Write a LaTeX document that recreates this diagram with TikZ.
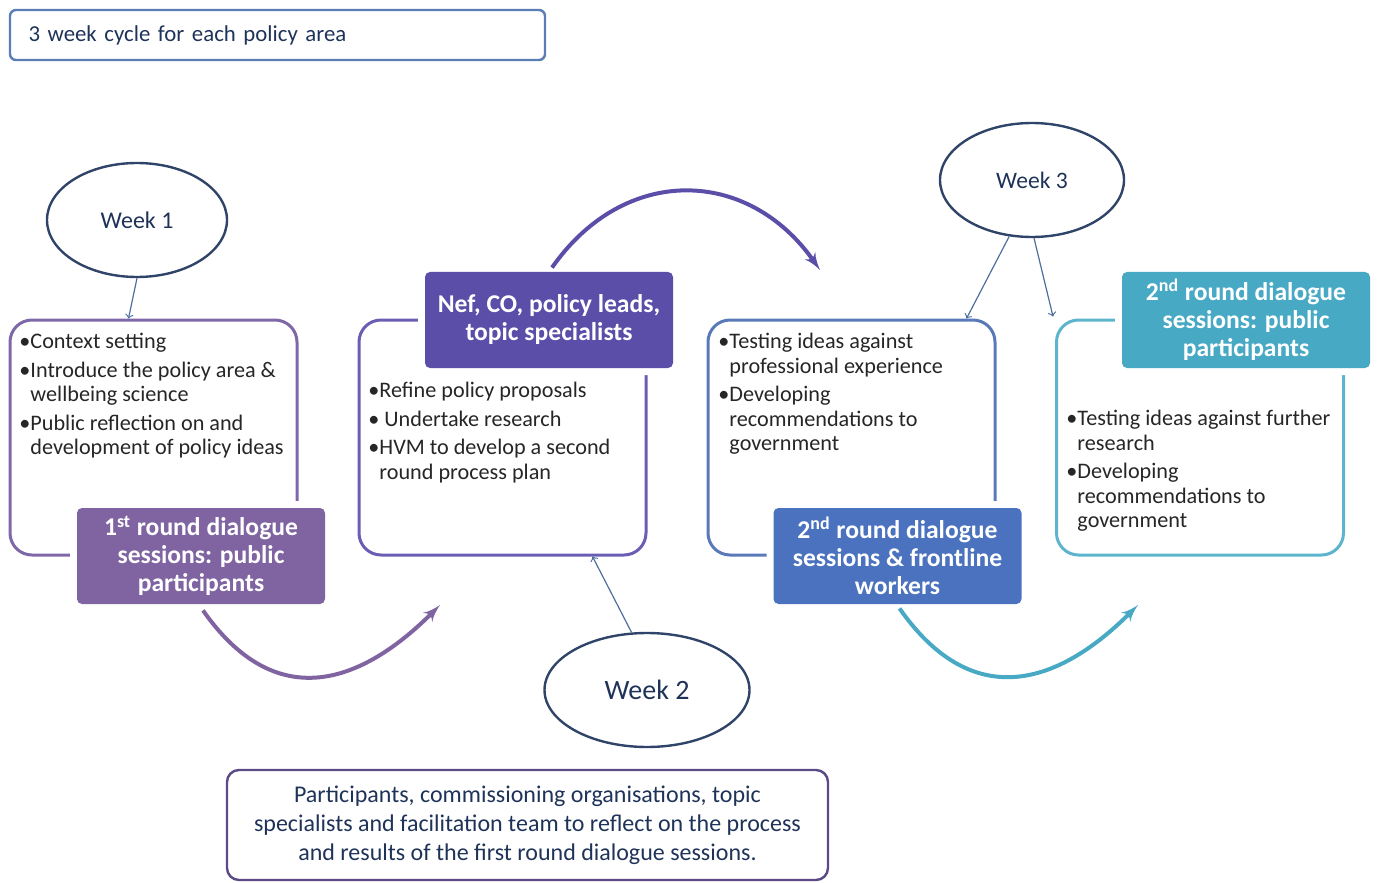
\documentclass[tikz,border=0pt]{standalone}
\usepackage{fontspec}
\setmainfont{Carlito}
\usepackage{xcolor}
\usetikzlibrary{arrows,calc,positioning,shapes}

\definecolor{navy}{HTML}{1F3359}
\definecolor{ringline}{HTML}{2F4468}
\definecolor{thinarrow}{HTML}{4F6E9E}
\definecolor{bodytext}{HTML}{262626}
\definecolor{purp}{HTML}{8064A2}
\definecolor{purpline}{HTML}{7E68A8}
\definecolor{indig}{HTML}{5A4EA8}
\definecolor{indigline}{HTML}{6A5EB4}
\definecolor{blu}{HTML}{4A72BE}
\definecolor{bluline}{HTML}{5A79B8}
\definecolor{aqua}{HTML}{47A9C4}
\definecolor{aqualine}{HTML}{5DB5CD}
\definecolor{topline}{HTML}{5B7DB5}
\definecolor{botline}{HTML}{5B4A85}

\begin{document}
\begin{tikzpicture}[x=0.5pt,y=-0.5pt]

\tikzset{week/.style = {shape=ellipse,draw=ringline,line width=1.2pt,minimum width=90pt,minimum height=57pt,text=navy,font=\fontsize{12}{14}\selectfont}}
\tikzset{panel/.style = {shape=rectangle,rounded corners=11pt,line width=1.5pt,minimum width=143.5pt,minimum height=117.5pt}}
\tikzset{tag/.style = {shape=rectangle,rounded corners=2.5pt,text=white,align=center,minimum width=124pt,minimum height=48pt,font=\bfseries\fontsize{12.8}{14}\selectfont,preaction={draw=white,line width=7pt}}}
\tikzset{bullets/.style = {anchor=north west,inner sep=0pt,align=left,text=bodytext,font=\fontsize{11.1}{12.25}\selectfont}}
\tikzset{loop/.style = {->,> = latex',line width=2pt}}
\tikzset{pointer/.style = {->,draw=thinarrow,line width=0.6pt}}

\useasboundingbox (0,0) rectangle (1378,883);

% header and note
\node[draw=topline,line width=1.2pt,rounded corners=3pt,minimum width=267.5pt,minimum height=25pt,text width=249pt,align=left,text=navy,font=\fontsize{11.4}{13}\selectfont] (head) at (277.5,35) {3 week cycle for each policy area};
\node[draw=botline,line width=1.2pt,rounded corners=6pt,minimum width=300.5pt,minimum height=55pt,align=center,text=navy,font=\fontsize{12}{14.5}\selectfont] (note) at (527.5,825) {Participants, commissioning organisations, topic\\specialists and facilitation team to reflect on the process\\and results of the first round dialogue sessions.};

% panels
\node[panel,draw=purpline] (box1) at (153.5,437.5) {};
\node[panel,draw=indigline] (box2) at (502.5,437.5) {};
\node[panel,draw=bluline] (box3) at (851.5,437.5) {};
\node[panel,draw=aqualine] (box4) at (1200,437.5) {};

% panel texts
\node[bullets] (txt1) at (19,333) {\textbullet Context setting\\[2pt]\textbullet Introduce the policy area \&\\\phantom{\textbullet}wellbeing science\\[2pt]\textbullet Public reflection on and\\\phantom{\textbullet}development of policy ideas};
\node[bullets] (txt2) at (368,382) {\textbullet Refine policy proposals\\[2pt]\textbullet\ Undertake research\\[2pt]\textbullet HVM to develop a second\\\phantom{\textbullet}round process plan};
\node[bullets] (txt3) at (718,333) {\textbullet Testing ideas against\\\phantom{\textbullet}professional experience\\[2pt]\textbullet Developing\\\phantom{\textbullet}recommendations to\\\phantom{\textbullet}government};
\node[bullets] (txt4) at (1066,410) {\textbullet Testing ideas against further\\\phantom{\textbullet}research\\[2pt]\textbullet Developing\\\phantom{\textbullet}recommendations to\\\phantom{\textbullet}government};

% tags
\node[tag,fill=purp] (tag1) at (201,556) {1\textsuperscript{st} round dialogue\\sessions: public\\participants};
\node[tag,fill=indig] (tag2) at (549,320) {Nef, CO, policy leads,\\topic specialists};
\node[tag,fill=blu] (tag3) at (897.5,556) {2\textsuperscript{nd} round dialogue\\sessions \& frontline\\workers};
\node[tag,fill=aqua] (tag4) at (1246,320) {2\textsuperscript{nd} round dialogue\\sessions: public\\participants};

% weeks
\node[week] (wk1) at (137,220) {Week 1};
\node[week,minimum width=102.5pt,font=\fontsize{14}{16}\selectfont] (wk2) at (647,690) {Week 2};
\node[week,minimum width=92pt,font=\fontsize{11.8}{14}\selectfont] (wk3) at (1032,180) {Week 3};

\coordinate (end1) at (440,605);
\coordinate (end2) at (820,270);
\coordinate (end3) at (1138,605);

%edges
\draw[pointer] (wk1.south) -- ($(box1.north)+(-25,0)$);
\draw[pointer] (wk2.105) -- ($(box2.south)+(90,0)$);
\draw[pointer] (wk3.248) -- ($(box3.north east)+(-30,0)$);
\draw[pointer] (wk3.272) -- ($(box4.north west)+(-2,-2)$);

\draw[loop,draw=purp] ($(tag1.south)+(2,6)$) to[out=-55,in=-135,looseness=1.3] (end1);
\draw[loop,draw=indig] ($(tag2.north)+(3,-4)$) to[out=55,in=125,looseness=1.2] (end2);
\draw[loop,draw=aqua] ($(tag3.south)+(2,4)$) to[out=-55,in=-135,looseness=1.3] (end3);
\end{tikzpicture}
\end{document}
